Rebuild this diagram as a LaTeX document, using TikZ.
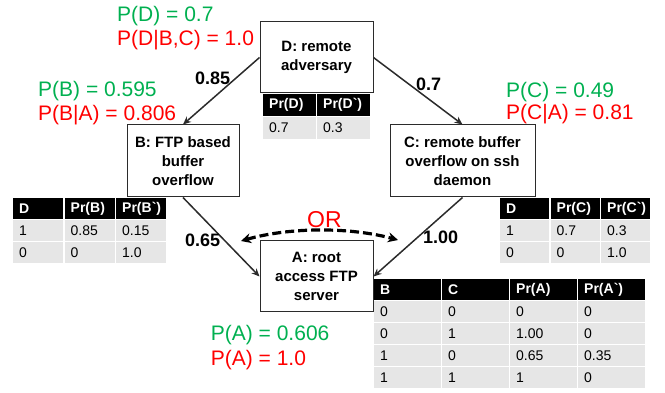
\documentclass[tikz,border=0pt]{standalone}
\usepackage{fontspec}
\setmainfont{Liberation Sans}
\usetikzlibrary{matrix,arrows.meta}
\definecolor{pgreen}{HTML}{00B050}
\definecolor{pred}{HTML}{FF0000}
\definecolor{cellgrey}{HTML}{E6E6E6}
\definecolor{edgegrey}{HTML}{2B2B2B}
\begin{document}
\begin{tikzpicture}[x=1pt,y=-1pt,
  box/.style={draw=edgegrey, line width=1pt, fill=white, align=center, inner sep=0pt,
    font=\fontsize{15}{19}\selectfont\bfseries},
  plab/.style={anchor=base west, inner sep=0pt, font=\fontsize{21}{21}\selectfont},
  elab/.style={anchor=base west, inner sep=0pt, font=\fontsize{18}{18}\selectfont\bfseries},
  edge/.style={draw=edgegrey, line width=1.5pt, -{Stealth[length=8pt,width=7pt]}},
  orarrow/.style={draw=black, line width=3.2pt, dash pattern=on 9pt off 4pt,
    {Stealth[length=10pt,width=10pt]}-{Stealth[length=10pt,width=10pt]}},
  cell/.style={fill=cellgrey, text=black, font=\fontsize{14}{14}\selectfont,
    inner xsep=6pt, inner ysep=0pt, align=left, anchor=center},
  tbl/.style 2 args={matrix of nodes, inner sep=0pt, column sep=1.5pt, row sep=1.5pt,
    nodes={cell, text width=#1, minimum height=#2},
    row 1/.style={nodes={fill=black, text=white, font=\fontsize{14}{14}\selectfont\bfseries}}}
]
\useasboundingbox (0,0) rectangle (665,393);

% nodes
\node[box, minimum width=113pt, minimum height=71pt] (D) at (316.5,57.5) {D: remote\\adversary};
\node[box, minimum width=112pt, minimum height=72pt] (B) at (183,161) {B: FTP based\\buffer\\overflow};
\node[box, minimum width=145pt, minimum height=72pt] (C) at (462.5,161) {C: remote buffer\\overflow on ssh\\daemon};
\node[box, minimum width=113pt, minimum height=71pt] (A) at (316.5,276.5) {A: root\\access FTP\\server};

% tables
\matrix (tD) [tbl={40.5pt}{21.5pt}, anchor=north west] at (263,94) {
  Pr(D) & Pr(D\textasciigrave) \\
  0.7 & 0.3 \\
};
\matrix (tB) [tbl={38pt}{20.5pt}, anchor=north west] at (13,198) {
  D & Pr(B) & Pr(B\textasciigrave) \\
  1 & 0.85 & 0.15 \\
  0 & 0 & 1.0 \\
};
\matrix (tC) [tbl={37pt}{20.5pt}, anchor=north west] at (500,198) {
  D & Pr(C) & Pr(C\textasciigrave) \\
  1 & 0.7 & 0.3 \\
  0 & 0 & 1.0 \\
};
\matrix (tA) [tbl={54.5pt}{20.5pt}, anchor=north west] at (374,279) {
  B & C & Pr(A) & Pr(A\textasciigrave) \\
  0 & 0 & 0 & 0 \\
  0 & 1 & 1.00 & 0 \\
  1 & 0 & 0.65 & 0.35 \\
  1 & 1 & 1 & 0 \\
};

% connectors
\draw[edge] (D.west) -- (B.north);
\draw[edge] (D.east) -- (C.north);
\draw[edge] (B.south) -- (A.west);
\draw[edge] (C.south) -- (A.east);

\coordinate (orL) at (241,241);
\coordinate (orR) at (398,240);
\draw[orarrow] (orL) .. controls (290,227) and (350,227) .. (orR);
\node[anchor=base west, inner sep=0pt, text=pred, font=\fontsize{23}{23}\selectfont] (orlab) at (307,228) {OR};

% edge labels
\node[elab] (l85) at (195,85) {0.85};
\node[elab] (l7) at (416,90.5) {0.7};
\node[elab] (l65) at (185,246.5) {0.65};
\node[elab] (l100) at (423,244) {1.00};

% probability labels
\node[plab, text=pgreen] (pD) at (117,22) {P(D) = 0.7};
\node[plab, text=pred] (pDc) at (117,45.5) {P(D|B,C) = 1.0};
\node[plab, text=pgreen] (pB) at (38,96.7) {P(B) = 0.595};
\node[plab, text=pred] (pBc) at (38,120.7) {P(B|A) = 0.806};
\node[plab, text=pgreen] (pC) at (506,97.3) {P(C) = 0.49};
\node[plab, text=pred] (pCc) at (506,120) {P(C|A) = 0.81};
\node[plab, text=pgreen] (pA) at (210.7,340.7) {P(A) = 0.606};
\node[plab, text=pred] (pAc) at (210.7,366) {P(A) = 1.0};
\end{tikzpicture}
\end{document}
